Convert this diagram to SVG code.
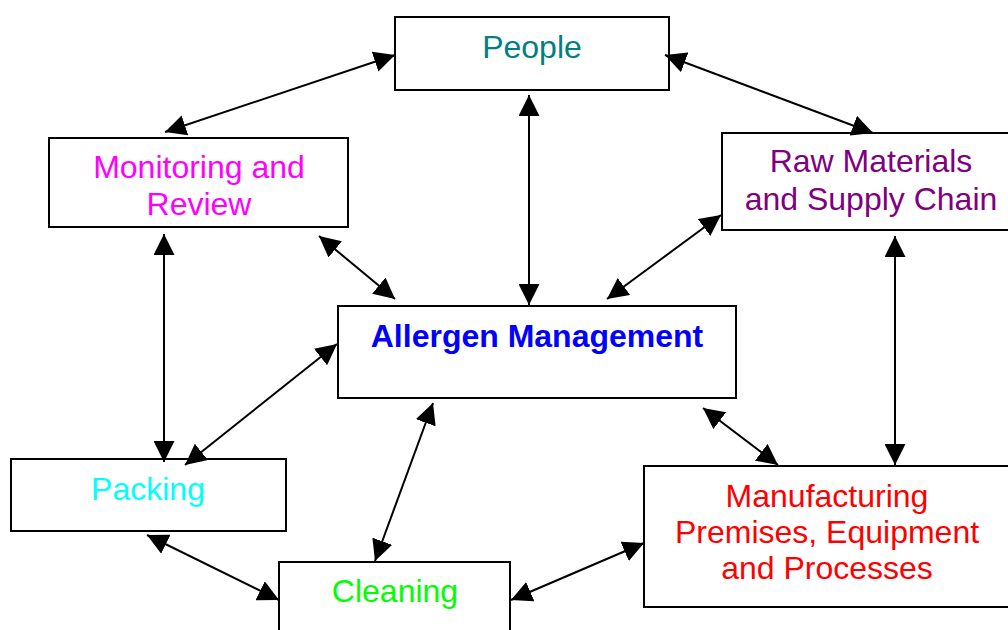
<svg xmlns="http://www.w3.org/2000/svg" width="1008" height="630" viewBox="0 0 1008 630">
<style>
.box{fill:#fff;stroke:#000;stroke-width:2}
.t{font-family:"Liberation Sans",Arial,sans-serif;font-size:32px;text-anchor:middle}
.b{font-weight:bold}
.c line{stroke:#000;stroke-width:2;marker-start:url(#ah);marker-end:url(#ah)}
</style>
<defs>
<marker id="ah" markerUnits="userSpaceOnUse" markerWidth="21" markerHeight="21" viewBox="0 0 21 21" refX="21" refY="10.5" orient="auto-start-reverse">
<path d="M0,0 L21,10.5 L0,21 z" fill="#000"/>
</marker>
</defs>
<rect width="1008" height="630" fill="#fff"/>
<g id="people"><rect class="box" x="395" y="17" width="274" height="73"/><text class="t" x="532" y="58" fill="#008080">People</text></g>
<g id="monitoring"><rect class="box" x="49" y="138" width="299" height="89"/><text class="t" x="199" y="178" fill="#FF00FF">Monitoring and</text><text class="t" x="199" y="215" fill="#FF00FF">Review</text></g>
<g id="raw"><rect class="box" x="722" y="133" width="300" height="97"/><text class="t" x="871" y="172" fill="#800080">Raw Materials</text><text class="t" x="871" y="210" fill="#800080">and Supply Chain</text></g>
<g id="allergen"><rect class="box" x="338" y="306" width="398" height="92"/><text class="t b" x="537" y="347" fill="#0000FF">Allergen Management</text></g>
<g id="packing"><rect class="box" x="11" y="459" width="275" height="72"/><text class="t" x="148" y="500" fill="#00FFFF">Packing</text></g>
<g id="cleaning"><rect class="box" x="279" y="562" width="231" height="80"/><text class="t" x="395" y="602" fill="#00FF00">Cleaning</text></g>
<g id="manufacturing"><rect class="box" x="644" y="466" width="380" height="141"/><text class="t" x="827" y="507" fill="#FF0000">Manufacturing</text><text class="t" x="827" y="543" fill="#FF0000">Premises, Equipment</text><text class="t" x="827" y="579" fill="#FF0000">and Processes</text></g>
<g id="connectors" class="c">
<line x1="395" y1="55" x2="165" y2="132"/>
<line x1="665" y1="55" x2="873" y2="133"/>
<line x1="529" y1="95" x2="529" y2="305"/>
<line x1="319" y1="236" x2="395" y2="299"/>
<line x1="721" y1="215" x2="607" y2="299"/>
<line x1="164" y1="234" x2="164" y2="462"/>
<line x1="337" y1="344" x2="185" y2="465"/>
<line x1="895" y1="236" x2="895" y2="465"/>
<line x1="703" y1="408" x2="778" y2="465"/>
<line x1="433" y1="403" x2="375" y2="561"/>
<line x1="147" y1="535" x2="279" y2="600"/>
<line x1="511" y1="600" x2="644" y2="543"/>
</g>
</svg>
